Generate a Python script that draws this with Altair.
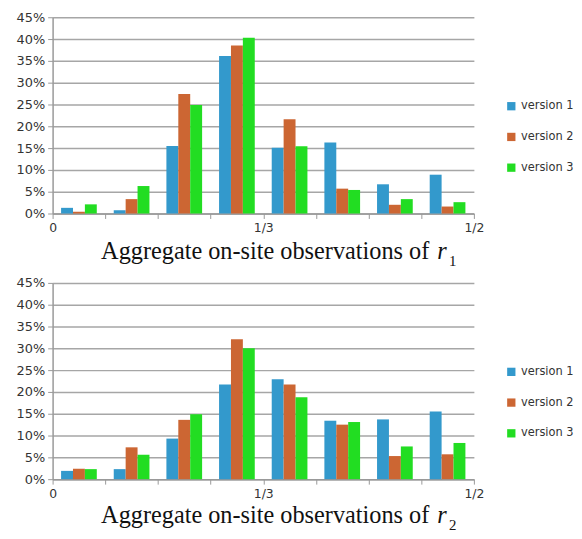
import altair as alt
import pandas as pd

bins = list(range(8))
versions = ["version 1", "version 2", "version 3"]
colors = ["#3399cc", "#cc6633", "#22dd22"]

# percentages, panel r1
r1_v1 = [1.3, 0.75, 15.5, 36.1, 15.1, 16.3, 6.7, 8.9]
r1_v2 = [0.4, 3.3, 27.4, 38.5, 21.6, 5.7, 2.0, 1.6]
r1_v3 = [2.1, 6.3, 24.9, 40.3, 15.4, 5.4, 3.3, 2.6]
# panel r2
r2_v1 = [1.9, 2.3, 9.3, 21.7, 22.9, 13.4, 13.7, 15.5]
r2_v2 = [2.4, 7.3, 13.6, 32.1, 21.7, 12.5, 5.3, 5.7]
r2_v3 = [2.3, 5.6, 14.9, 30.0, 18.8, 13.1, 7.5, 8.3]

y_ticks = [0, 0.05, 0.10, 0.15, 0.20, 0.25, 0.30, 0.35, 0.40, 0.45]
x_ticks = list(range(9))
x_labels = {0: "0", 4: "1/3", 8: "1/2"}

label_expr = " : ".join(
    f"datum.value == {k} ? '{v}'" for k, v in x_labels.items()
) + " : ''"

title_main = "Aggregate on-site observations of"
title_var = "r"


def panel(series, sub, text_y):
    rows = []
    for vi, (v, vals) in enumerate(zip(versions, series)):
        for g, val in zip(bins, vals):
            rows.append({"bin": g, "version": v, "vi": vi, "share": val / 100})
    df = pd.DataFrame(rows)
    bars = (
        alt.Chart(df)
        .transform_calculate(
            x0="datum.bin + 0.5 + (datum.vi - 1.5) * 0.226",
            x1="datum.bin + 0.5 + (datum.vi - 0.5) * 0.226",
        )
        .mark_bar()
        .encode(
            x=alt.X(
                "x0:Q",
                scale=alt.Scale(domain=[0, 8], nice=False, zero=False),
                axis=alt.Axis(
                    values=x_ticks,
                    labelExpr=label_expr,
                    grid=False,
                    title=None,
                    tickSize=5,
                    labelPadding=3,
                    labelFlush=False,
                    labelFont="DejaVu Sans",
                    labelFontSize=12.5,
                    labelColor="#333333",
                    domainColor="#999999",
                    tickColor="#999999",
                    domainWidth=1.5,
                ),
            ),
            x2="x1:Q",
            y=alt.Y(
                "share:Q",
                scale=alt.Scale(domain=[0, 0.45], nice=False),
                axis=alt.Axis(
                    values=y_ticks,
                    format=".0%",
                    title=None,
                    grid=True,
                    gridColor="#a6a6a6",
                    gridWidth=1.5,
                    tickSize=5,
                    labelPadding=3,
                    labelFont="DejaVu Sans",
                    labelFontSize=13,
                    labelColor="#333333",
                    domainColor="#999999",
                    tickColor="#999999",
                    domainWidth=1.5,
                ),
            ),
            y2=alt.datum(0),
            color=alt.Color(
                "version:N",
                scale=alt.Scale(domain=versions, range=colors),
                legend=alt.Legend(
                    title=None,
                    orient="none",
                    legendX=457,
                    legendY=84,
                    symbolType="square",
                    symbolSize=70,
                    symbolStrokeWidth=0,
                    labelFont="DejaVu Sans",
                    labelFontSize=11.5,
                    labelColor="#333333",
                    labelOffset=4,
                    rowPadding=18,
                    padding=0,
                ),
            ),
        )
    )
    t_main = (
        alt.Chart(pd.DataFrame({"t": [title_main]}))
        .mark_text(align="right", baseline="alphabetic", font="Liberation Serif",
                   fontSize=24.5, color="#111111")
        .encode(x=alt.value(380), y=alt.value(text_y), text="t:N")
    )
    t_var = (
        alt.Chart(pd.DataFrame({"t": [title_var]}))
        .mark_text(align="left", baseline="alphabetic", font="Liberation Serif",
                   fontSize=24.5, fontStyle="italic", color="#111111")
        .encode(x=alt.value(388), y=alt.value(text_y), text="t:N")
    )
    t_sub = (
        alt.Chart(pd.DataFrame({"t": [sub]}))
        .mark_text(align="left", baseline="alphabetic", font="Liberation Serif",
                   fontSize=15, color="#111111")
        .encode(x=alt.value(400), y=alt.value(text_y + 7), text="t:N")
    )
    return alt.layer(bars, t_main, t_var, t_sub).properties(width=425, height=198)


top = panel([r1_v1, r1_v2, r1_v3], "1", 244)
bottom = panel([r2_v1, r2_v2, r2_v3], "2", 242)

chart = (
    alt.vconcat(top, bottom, spacing=8)
    .resolve_scale(color="independent")
    .properties(padding={"left": 8, "top": 1, "right": 0, "bottom": 0}, background="white")
    .configure_view(stroke=None)
)

chart.save("out.html", embed_options={"renderer": "svg", "actions": False})
